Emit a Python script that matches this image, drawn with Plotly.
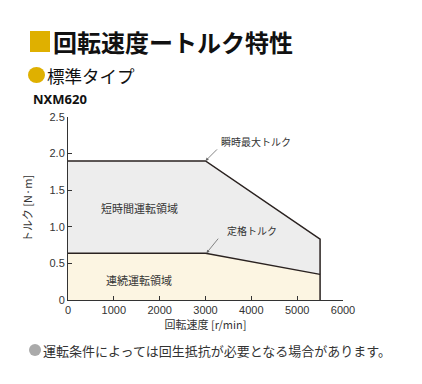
import plotly.graph_objects as go

# ---- data ----
speed_peak = [0, 3000, 5500, 5500]
torque_peak = [1.9, 1.9, 0.83, 0]
speed_rated = [0, 3000, 5500]
torque_rated = [0.64, 0.64, 0.35]
x_ticks = [0, 1000, 2000, 3000, 4000, 5000, 6000]
x_ticklabels = ["0", "1000", "2000", "3000", "4000", "5000", "6000"]
y_ticks = [0, 0.5, 1.0, 1.5, 2.0, 2.5]
y_ticklabels = ["0", "0.5", "1.0", "1.5", "2.0", "2.5"]

# page has an 8px body margin; size the figure so it fits the window
OFF = 8
W, H = 422 - OFF, 384 - OFF
PL, PT, PW, PH = 68, 117, 275, 183   # plot area in window pixels
L, T = PL - OFF, PT - OFF
R, B = W - L - PW, H - T - PH

def px(x):
    return (x - PL) / PW

def py(y):
    return (PT + PH - y) / PH

JP = "Noto Sans CJK JP"
LINE = "#2a2220"

fig = go.Figure()

# continuous region (lower)
fig.add_trace(go.Scatter(
    x=[0] + speed_rated + [speed_rated[-1], 0],
    y=[0] + torque_rated + [0, 0],
    fill="toself", fillcolor="#fcf5e2", line=dict(width=0),
    mode="lines", hoverinfo="skip", showlegend=False))
# short-time region (upper)
fig.add_trace(go.Scatter(
    x=[0] + speed_peak[:3] + speed_rated[::-1],
    y=[torque_rated[0]] + [torque_peak[0]] + torque_peak[1:3] + torque_rated[::-1],
    fill="toself", fillcolor="#ededed", line=dict(width=0),
    mode="lines", hoverinfo="skip", showlegend=False))
# outlines
fig.add_trace(go.Scatter(x=speed_peak, y=torque_peak, mode="lines",
                         line=dict(color=LINE, width=1.5), hoverinfo="skip", showlegend=False))
fig.add_trace(go.Scatter(x=speed_rated, y=torque_rated, mode="lines",
                         line=dict(color=LINE, width=1.5), hoverinfo="skip", showlegend=False))

ann = []
# region labels
ann.append(dict(x=1550, y=1.26, xref="x", yref="y", text="短時間運転領域", showarrow=False,
                font=dict(family=JP, size=11, color="#333")))
ann.append(dict(x=1550, y=0.27, xref="x", yref="y", text="連続運転領域", showarrow=False,
                font=dict(family=JP, size=11, color="#333")))
# arrows
ann.append(dict(x=speed_peak[1], y=torque_peak[1], xref="x", yref="y", text="",
                showarrow=True, ax=13, ay=-13, arrowhead=2, arrowsize=0.8, arrowwidth=0.8,
                arrowcolor="#666"))
ann.append(dict(x=px(219), y=py(141), xref="paper", yref="paper", text="瞬時最大トルク",
                showarrow=False, xanchor="left", yanchor="middle",
                font=dict(family=JP, size=10, color="#333")))
ann.append(dict(x=speed_rated[1] + 20, y=torque_rated[1], xref="x", yref="y", text="",
                showarrow=True, ax=13, ay=-16, arrowhead=2, arrowsize=0.8, arrowwidth=0.8,
                arrowcolor="#666"))
ann.append(dict(x=px(225), y=py(230), xref="paper", yref="paper", text="定格トルク",
                showarrow=False, xanchor="left", yanchor="middle",
                font=dict(family=JP, size=10, color="#333")))
# header texts
ann.append(dict(x=px(51), y=py(41), xref="paper", yref="paper", text="<b>回転速度ートルク特性</b>",
                showarrow=False, xanchor="left", yanchor="middle",
                font=dict(family=JP, size=24, color="#111")))
ann.append(dict(x=px(45), y=py(75), xref="paper", yref="paper", text="標準タイプ",
                showarrow=False, xanchor="left", yanchor="middle",
                font=dict(family=JP, size=17.5, color="#111")))
ann.append(dict(x=px(31), y=py(99), xref="paper", yref="paper", text="<b>NXM620</b>",
                showarrow=False, xanchor="left", yanchor="middle",
                font=dict(family="Noto Sans", size=13, color="#111")))
ann.append(dict(x=px(41), y=py(350), xref="paper", yref="paper",
                text="運転条件によっては回生抵抗が必要となる場合があります。",
                showarrow=False, xanchor="left", yanchor="middle",
                font=dict(family=JP, size=13, color="#333")))

shapes = [
    dict(type="rect", xref="paper", yref="paper", x0=px(30), x1=px(50), y0=py(52), y1=py(31),
         fillcolor="#dfb000", line=dict(width=0)),
    dict(type="circle", xref="paper", yref="paper", x0=px(28), x1=px(45), y0=py(83), y1=py(67),
         fillcolor="#dfb000", line=dict(width=0)),
    dict(type="circle", xref="paper", yref="paper", x0=px(29), x1=px(41), y0=py(356), y1=py(344),
         fillcolor="#aaaaaa", line=dict(width=0)),
]

fig.update_layout(
    width=W, height=H, margin=dict(l=L, r=R, t=T, b=B),
    paper_bgcolor="white", plot_bgcolor="white",
    annotations=ann, shapes=shapes,
    xaxis=dict(range=[0, 6000], tickvals=x_ticks, ticktext=x_ticklabels, showgrid=False,
               zeroline=False, showline=True, linecolor="#333", linewidth=1,
               ticks="inside", ticklen=4, tickcolor="#333",
               tickfont=dict(family="Liberation Sans", size=11, color="#333"),
               title=dict(text="回転速度 [r/min]", font=dict(family=JP, size=11, color="#333"),
                          standoff=4)),
    yaxis=dict(range=[0, 2.5], tickvals=y_ticks, ticktext=y_ticklabels, showgrid=False,
               zeroline=False, showline=True, linecolor="#333", linewidth=1,
               ticks="inside", ticklen=4, tickcolor="#333",
               tickfont=dict(family="Liberation Sans", size=11, color="#333"),
               title=dict(text="トルク [N·m]", font=dict(family=JP, size=11, color="#333"),
                          standoff=14)),
)

fig.write_html("out.html")
